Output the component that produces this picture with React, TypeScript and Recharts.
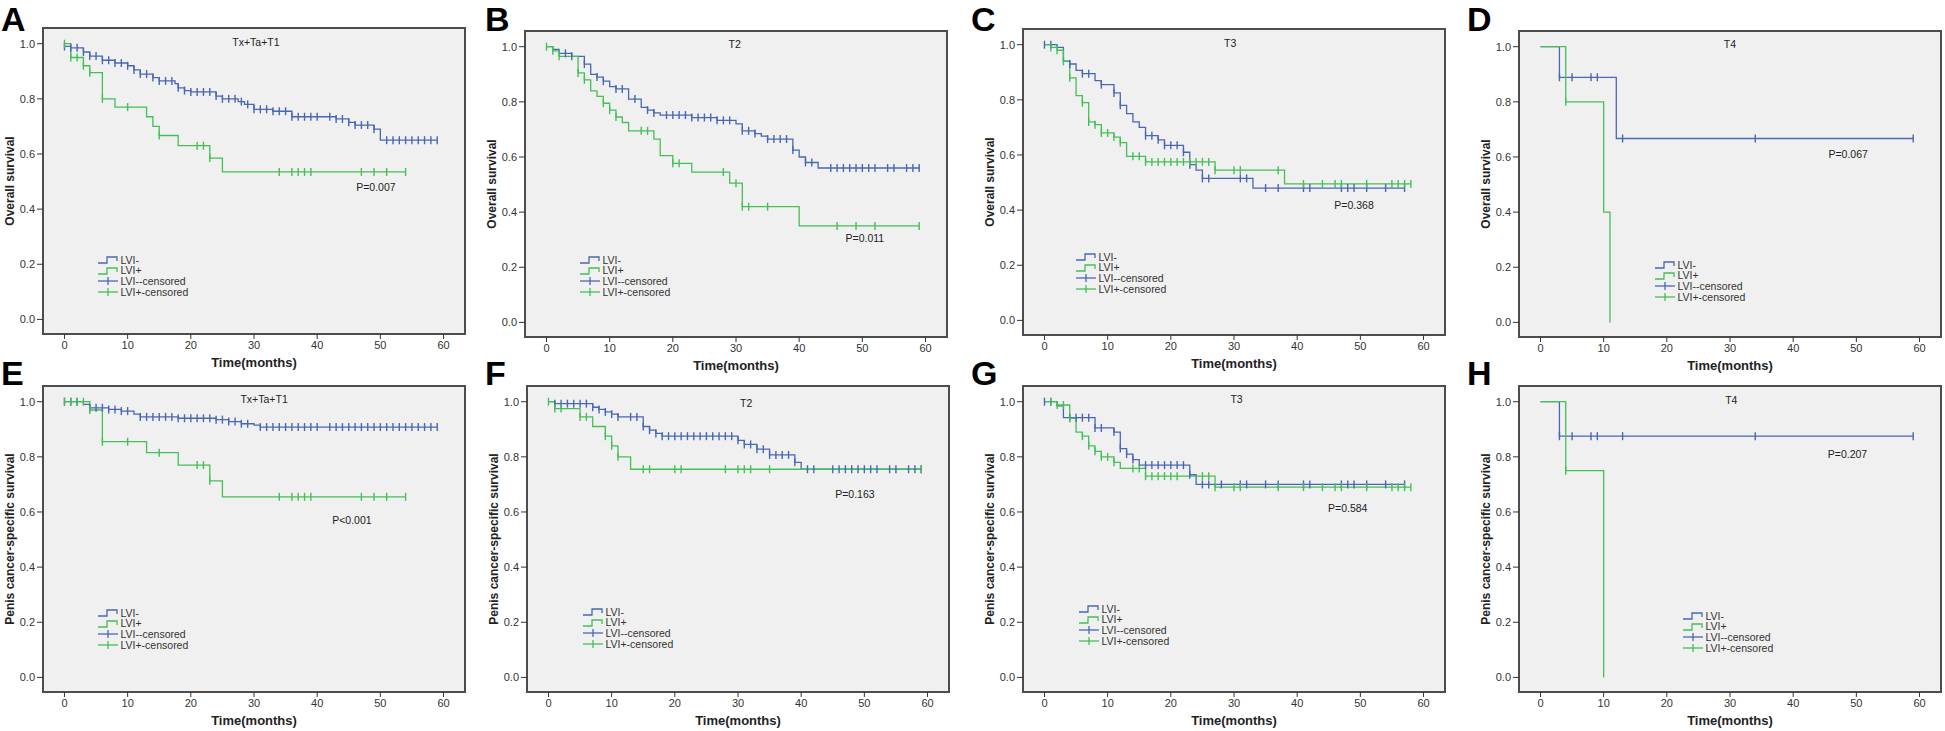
import React from 'react';
import { ComposedChart, Line, Scatter, XAxis, YAxis, ReferenceArea, ReferenceDot, Legend } from 'recharts';

const BLUE = '#4a67b6';
const GREEN = '#45bf57';
const FONT = '"Liberation Sans", Arial, sans-serif';

const X_TICKS = [0, 10, 20, 30, 40, 50, 60];
const Y_TICKS = [0, 0.2, 0.4, 0.6, 0.8, 1.0];
const X_DOMAIN: [number, number] = [-3.4, 63.4];
const Y_DOMAIN: [number, number] = [-0.053, 1.057];
const LEGEND_LABELS = ['LVI-', 'LVI+', 'LVI--censored', 'LVI+-censored'];
const Y_LABEL_OS = 'Overall survival';
const Y_LABEL_CSS = 'Penis cancer-specific survival';
const X_LABEL = 'Time(months)';

type Step = [number, number];

// ---- Panel A: Tx+Ta+T1, overall survival
const A_NEG_STEPS: Step[] = [[0, 0.99], [1, 0.985], [3, 0.97], [4, 0.955], [6, 0.94], [8, 0.93], [10, 0.92], [11, 0.905], [12, 0.89], [14, 0.877], [15, 0.865], [17.5, 0.855], [18, 0.84], [19, 0.83], [20, 0.825], [24, 0.81], [25, 0.8], [27.5, 0.79], [28.5, 0.78], [30, 0.762], [33, 0.755], [36, 0.735], [43, 0.727], [45, 0.715], [46, 0.705], [49, 0.69], [50, 0.65]];
const A_NEG_CENS = [0, 1, 2, 3, 4, 5, 6, 7, 8, 9, 10, 11, 12, 13, 14, 15, 16, 17, 18, 19, 20, 21, 22, 23, 24, 25, 26, 27, 28, 29, 30, 31, 32, 33, 34, 35, 36, 37, 38, 39, 40, 42, 43, 44, 45, 46, 47, 48, 49, 51, 52, 53, 54, 55, 56, 57, 58, 59];
const A_POS_STEPS: Step[] = [[0, 1.0], [1, 0.95], [3, 0.92], [4, 0.895], [6, 0.8], [8, 0.77], [13, 0.735], [14, 0.7], [15, 0.667], [18, 0.63], [23, 0.585], [25, 0.535]];
const A_POS_CENS = [0, 1, 2, 3, 4, 6, 10, 15, 21, 22, 23, 34, 36, 37, 38, 39, 47, 49, 51, 54];

// ---- Panel B: T2, overall survival
const B_NEG_STEPS: Step[] = [[0, 1.0], [1, 0.99], [2, 0.976], [4, 0.965], [6, 0.937], [7, 0.9], [8, 0.89], [9, 0.875], [10, 0.855], [11, 0.847], [13, 0.81], [15, 0.78], [16, 0.77], [17, 0.76], [18, 0.752], [23, 0.743], [27, 0.733], [30, 0.72], [31, 0.695], [33, 0.685], [34, 0.676], [35, 0.665], [39, 0.625], [40, 0.6], [41, 0.58], [43, 0.56]];
const B_NEG_CENS = [3, 4, 6, 8, 9, 11, 12, 14, 16, 17, 19, 20, 21, 22, 23, 24, 25, 26, 27, 28, 29, 31, 32, 33, 35, 36, 37, 38, 39, 41, 42, 45, 46, 47, 48, 49, 50, 51, 52, 54, 55, 57, 58, 59];
const B_POS_STEPS: Step[] = [[0, 1.0], [1, 0.985], [2, 0.965], [5, 0.905], [6, 0.88], [7, 0.84], [8, 0.82], [9, 0.795], [10, 0.77], [11, 0.745], [12, 0.725], [13, 0.695], [17, 0.665], [18, 0.605], [20, 0.577], [23, 0.545], [29, 0.505], [31, 0.42], [40, 0.35]];
const B_POS_CENS = [0, 1, 2, 5, 6, 9, 10, 11, 15, 16, 20, 21, 28, 30, 31, 32, 35, 46, 49, 52, 59];

// ---- Panel C: T3, overall survival
const C_NEG_STEPS: Step[] = [[0, 1.0], [2, 0.99], [3, 0.94], [4, 0.93], [5, 0.907], [6, 0.895], [8, 0.87], [9, 0.855], [11, 0.825], [12, 0.78], [13, 0.75], [14, 0.72], [15, 0.7], [16, 0.67], [18, 0.655], [19, 0.635], [22, 0.61], [23, 0.565], [24, 0.545], [25, 0.515], [33, 0.48]];
const C_NEG_CENS = [0, 1, 4, 6, 7, 9, 11, 12, 16, 17, 18, 19, 20, 21, 22, 23, 25, 26, 31, 32, 35, 37, 41, 42, 47, 48, 49, 51, 54, 57];
const C_POS_STEPS: Step[] = [[0, 1.0], [1, 0.99], [2, 0.98], [3, 0.94], [4, 0.88], [5, 0.815], [6, 0.79], [7, 0.72], [8, 0.71], [9, 0.68], [11, 0.665], [12, 0.645], [13, 0.595], [16, 0.575], [27, 0.545], [38, 0.495]];
const C_POS_CENS = [1, 2, 3, 4, 6, 7, 8, 9, 10, 11, 12, 14, 15, 16, 17, 18, 19, 20, 21, 22, 23, 24, 25, 26, 27, 30, 31, 37, 41, 44, 46, 47, 51, 55, 56, 57, 58];

// ---- Panel D: T4, overall survival
const D_NEG_STEPS: Step[] = [[0, 1.0], [3, 0.889], [12, 0.667]];
const D_NEG_CENS = [3, 5, 8, 9, 13, 34, 59];
const D_POS_STEPS: Step[] = [[0, 1.0], [4, 0.8], [10, 0.4], [11, 0.0]];
const D_POS_CENS = [4];

// ---- Panel E: Tx+Ta+T1, cancer-specific survival
const E_NEG_STEPS: Step[] = [[0, 1.0], [3, 0.99], [4, 0.978], [7, 0.972], [9, 0.966], [11, 0.955], [12, 0.945], [18, 0.94], [24, 0.935], [26, 0.928], [28, 0.92], [30, 0.915], [31, 0.908]];
const E_NEG_CENS = [0, 1, 2, 4, 5, 6, 7, 8, 9, 10, 12, 13, 14, 15, 16, 17, 18, 19, 20, 21, 22, 23, 24, 25, 26, 27, 28, 29, 31, 32, 33, 34, 35, 36, 37, 38, 39, 40, 42, 43, 44, 45, 46, 47, 48, 49, 50, 51, 52, 53, 54, 55, 56, 57, 58, 59];
const E_POS_STEPS: Step[] = [[0, 1.0], [4, 0.97], [6, 0.855], [13, 0.815], [18, 0.77], [23, 0.713], [25, 0.655]];
const E_POS_CENS = [0, 1, 2, 3, 4, 6, 10, 15, 21, 22, 23, 34, 36, 37, 38, 39, 47, 49, 51, 54];

// ---- Panel F: T2, cancer-specific survival
const F_NEG_STEPS: Step[] = [[0, 1.0], [1, 0.993], [7, 0.98], [8, 0.972], [9, 0.963], [10, 0.955], [11, 0.945], [15, 0.91], [16, 0.897], [17, 0.885], [18, 0.875], [30, 0.86], [31, 0.845], [33, 0.828], [35, 0.807], [39, 0.78], [40, 0.755]];
const F_NEG_CENS = [1, 2, 3, 4, 5, 6, 7, 8, 9, 10, 11, 13, 14, 15, 16, 17, 18, 19, 20, 21, 22, 23, 24, 25, 26, 27, 28, 29, 30, 31, 32, 33, 34, 35, 36, 37, 38, 39, 41, 42, 45, 46, 47, 48, 49, 50, 51, 52, 54, 55, 57, 58, 59];
const F_POS_STEPS: Step[] = [[0, 1.0], [1, 0.975], [5, 0.945], [7, 0.91], [9, 0.875], [10, 0.84], [11, 0.8], [13, 0.755]];
const F_POS_CENS = [0, 1, 2, 5, 6, 9, 10, 11, 15, 16, 20, 21, 28, 30, 31, 32, 35, 59];

// ---- Panel G: T3, cancer-specific survival
const G_NEG_STEPS: Step[] = [[0, 1.0], [2, 0.985], [3, 0.942], [8, 0.905], [11, 0.89], [12, 0.83], [13, 0.81], [14, 0.79], [15, 0.77], [23, 0.735], [24, 0.7]];
const G_NEG_CENS = [0, 1, 4, 5, 6, 7, 8, 9, 11, 12, 13, 14, 16, 17, 18, 19, 20, 21, 22, 23, 25, 26, 28, 31, 32, 35, 37, 41, 42, 47, 48, 49, 51, 54, 57];
const G_POS_STEPS: Step[] = [[0, 1.0], [2, 0.988], [4, 0.94], [5, 0.89], [6, 0.875], [7, 0.84], [8, 0.82], [9, 0.8], [11, 0.78], [12, 0.758], [16, 0.73], [27, 0.69]];
const G_POS_CENS = [1, 2, 3, 4, 6, 7, 8, 9, 10, 11, 14, 15, 16, 17, 18, 19, 20, 21, 25, 26, 27, 30, 31, 37, 41, 44, 46, 47, 51, 55, 56, 57, 58];

// ---- Panel H: T4, cancer-specific survival
const H_NEG_STEPS: Step[] = [[0, 1.0], [3, 0.875]];
const H_NEG_CENS = [3, 5, 8, 9, 13, 34, 59];
const H_POS_STEPS: Step[] = [[0, 1.0], [4, 0.75], [10, 0.0]];
const H_POS_CENS = [4];

// ---- Panel texts
const LETTERS = ['A', 'B', 'C', 'D', 'E', 'F', 'G', 'H'];
const TITLES = ['Tx+Ta+T1', 'T2', 'T3', 'T4', 'Tx+Ta+T1', 'T2', 'T3', 'T4'];
const P_VALUES = ['P=0.007', 'P=0.011', 'P=0.368', 'P=0.067', 'P<0.001', 'P=0.163', 'P=0.584', 'P=0.207'];

// ---- Layout (pixel positions / label anchors)
const LAYOUT = [
  { box: [43, 28], title: [30.3, 1.004], p: [49.3, 0.48], legend: [55, 232], letter: [1, 31] },
  { box: [525, 31], title: [29.8, 1.01], p: [50.4, 0.306], legend: [55, 229], letter: [485, 31] },
  { box: [1023, 29], title: [29.4, 1.006], p: [49, 0.419], legend: [53, 228], letter: [971, 31] },
  { box: [1519, 31], title: [30, 1.01], p: [48.7, 0.61], legend: [136, 234], letter: [1467, 31] },
  { box: [43, 386], title: [31.6, 1.01], p: [45.5, 0.571], legend: [55, 227], letter: [1, 385] },
  { box: [527, 386], title: [31.3, 0.995], p: [48.5, 0.665], legend: [56, 226], letter: [485, 385] },
  { box: [1023, 386], title: [30.4, 1.008], p: [48, 0.614], legend: [56, 223], letter: [971, 385] },
  { box: [1519, 386], title: [30.2, 1.007], p: [48.6, 0.808], legend: [164, 230], letter: [1467, 385] },
];

const SERIES: [Step[], number[], Step[], number[]][] = [
  [A_NEG_STEPS, A_NEG_CENS, A_POS_STEPS, A_POS_CENS],
  [B_NEG_STEPS, B_NEG_CENS, B_POS_STEPS, B_POS_CENS],
  [C_NEG_STEPS, C_NEG_CENS, C_POS_STEPS, C_POS_CENS],
  [D_NEG_STEPS, D_NEG_CENS, D_POS_STEPS, D_POS_CENS],
  [E_NEG_STEPS, E_NEG_CENS, E_POS_STEPS, E_POS_CENS],
  [F_NEG_STEPS, F_NEG_CENS, F_POS_STEPS, F_POS_CENS],
  [G_NEG_STEPS, G_NEG_CENS, G_POS_STEPS, G_POS_CENS],
  [H_NEG_STEPS, H_NEG_CENS, H_POS_STEPS, H_POS_CENS],
];

const BOX_W = 422;
const BOX_H = 306;
const Y_AXIS_W = 66;
const X_AXIS_H = 56;
const M_TOP = 5;
const M_RIGHT = 6;

function survAt(steps: Step[], t: number): number {
  let s = steps[0][1];
  for (const [kt, ks] of steps) if (kt <= t) s = ks;
  return s;
}
function lineData(steps: Step[], cens: number[]) {
  const last = steps[steps.length - 1];
  const end = Math.max(last[0], ...cens);
  const pts = steps.map(([t, s]) => ({ t, s }));
  if (end > last[0]) pts.push({ t: end, s: last[1] });
  return pts;
}
function censorData(steps: Step[], cens: number[]) {
  return cens.map((t) => ({ t, s: survAt(steps, t) }));
}

const tickShape = (color: string) => (props: any) => {
  const { cx, cy } = props;
  if (cx == null || cy == null) return <g />;
  return <line x1={cx} x2={cx} y1={cy - 4} y2={cy + 4} stroke={color} strokeWidth={1.4} />;
};

function LegendIcon({ kind, color }: { kind: 'step' | 'cross'; color: string }) {
  return (
    <svg width={20} height={10} style={{ display: 'block' }}>
      {kind === 'step' ? (
        <path d="M0,8 H9 V2 H19 V6" fill="none" stroke={color} strokeWidth={1.3} />
      ) : (
        <g>
          <line x1={0} x2={20} y1={5} y2={5} stroke={color} strokeWidth={1.3} />
          <line x1={10} x2={10} y1={1} y2={9} stroke={color} strokeWidth={1.3} />
        </g>
      )}
    </svg>
  );
}

function LegendBox() {
  const items: ['step' | 'cross', string][] = [['step', BLUE], ['step', GREEN], ['cross', BLUE], ['cross', GREEN]];
  return (
    <div style={{ fontFamily: FONT }}>
      {items.map(([k, c], i) => (
        <div key={i} style={{ display: 'flex', alignItems: 'center', height: 10.7 }}>
          <LegendIcon kind={k} color={c} />
          <span style={{ fontSize: 10.5, color: '#333', marginLeft: 2.5, lineHeight: '10.7px', whiteSpace: 'nowrap' }}>
            {LEGEND_LABELS[i]}
          </span>
        </div>
      ))}
    </div>
  );
}

function Panel({ idx }: { idx: number }) {
  const lay = LAYOUT[idx];
  const [negSteps, negCens, posSteps, posCens] = SERIES[idx];
  const yLabel = idx < 4 ? Y_LABEL_OS : Y_LABEL_CSS;
  const w = Y_AXIS_W + BOX_W + M_RIGHT;
  const h = M_TOP + BOX_H + X_AXIS_H;
  return (
    <div style={{ position: 'absolute', left: lay.box[0] - Y_AXIS_W, top: lay.box[1] - M_TOP, width: w, height: h }}>
      <ComposedChart width={w} height={h} margin={{ top: M_TOP, right: M_RIGHT, bottom: 0, left: 0 }} style={{ fontFamily: FONT }}>
        <ReferenceArea
          x1={X_DOMAIN[0]}
          x2={X_DOMAIN[1]}
          y1={Y_DOMAIN[0]}
          y2={Y_DOMAIN[1]}
          fill="#f0f0f0"
          fillOpacity={1}
          stroke="#4d4d4d"
          strokeWidth={2}
          ifOverflow="visible"
        />
        <XAxis
          type="number"
          dataKey="t"
          domain={X_DOMAIN}
          ticks={X_TICKS}
          allowDataOverflow
          axisLine={false}
          tickLine={{ stroke: '#333' }}
          tickSize={5}
          tick={{ fontSize: 11, fill: '#333' }}
          height={X_AXIS_H}
          label={{ value: X_LABEL, position: 'center', fontSize: 13, fontWeight: 'bold', fill: '#222' }}
        />
        <YAxis
          type="number"
          domain={Y_DOMAIN}
          ticks={Y_TICKS}
          allowDataOverflow
          axisLine={false}
          tickLine={{ stroke: '#333' }}
          tickSize={6}
          tick={{ fontSize: 11, fill: '#333' }}
          tickFormatter={(v: number) => v.toFixed(1)}
          width={Y_AXIS_W}
          label={{ value: yLabel, angle: -90, position: 'center', fontSize: 12, fontWeight: 'bold', fill: '#222' }}
        />
        <Line data={lineData(negSteps, negCens)} dataKey="s" type="stepAfter" stroke={BLUE} strokeWidth={1.3} dot={false} activeDot={false} isAnimationActive={false} />
        <Line data={lineData(posSteps, posCens)} dataKey="s" type="stepAfter" stroke={GREEN} strokeWidth={1.3} dot={false} activeDot={false} isAnimationActive={false} />
        <Scatter data={censorData(negSteps, negCens)} dataKey="s" shape={tickShape(BLUE)} isAnimationActive={false} />
        <Scatter data={censorData(posSteps, posCens)} dataKey="s" shape={tickShape(GREEN)} isAnimationActive={false} />
        <ReferenceDot x={lay.title[0]} y={lay.title[1]} r={0} fill="none" stroke="none"
          label={{ value: TITLES[idx], position: 'center', fontSize: 10.5, fill: '#222' }} />
        <ReferenceDot x={lay.p[0]} y={lay.p[1]} r={0} fill="none" stroke="none"
          label={{ value: P_VALUES[idx], position: 'center', fontSize: 10.5, fill: '#222' }} />
        <Legend
          layout="vertical"
          align="center"
          verticalAlign="middle"
          content={() => <LegendBox />}
          wrapperStyle={{ left: Y_AXIS_W + lay.legend[0], top: M_TOP + lay.legend[1] - 5.35, width: 'auto', height: 'auto' }}
        />
      </ComposedChart>
    </div>
  );
}

export default function App() {
  return (
    <div style={{ position: 'absolute', left: 0, top: 0, width: 1945, height: 731, background: '#fff', overflow: 'hidden', fontFamily: FONT }}>
      {LAYOUT.map((_, i) => (
        <Panel key={i} idx={i} />
      ))}
      <svg width={1945} height={731} style={{ position: 'absolute', left: 0, top: 0, pointerEvents: 'none' }}>
        {LAYOUT.map((l, i) => (
          <text key={i} x={l.letter[0]} y={l.letter[1]} fontSize={34} fontWeight="bold" fill="#000" fontFamily={FONT}>
            {LETTERS[i]}
          </text>
        ))}
      </svg>
    </div>
  );
}
